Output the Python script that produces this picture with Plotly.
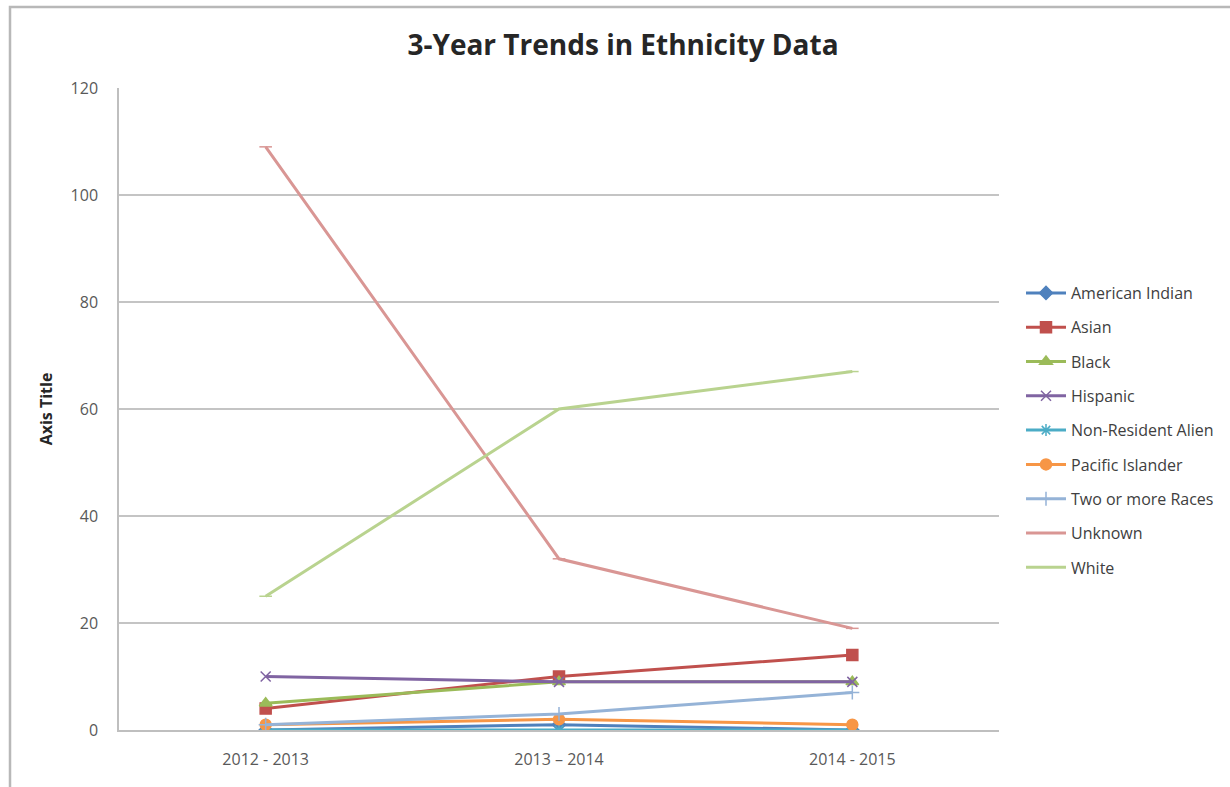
import plotly.graph_objects as go

categories = ["2012 - 2013", "2013 – 2014", "2014 - 2015"]

american_indian = [0, 1, 0]
asian = [4, 10, 14]
black = [5, 9, 9]
hispanic = [10, 9, 9]
non_resident_alien = [0, 0, 0]
pacific_islander = [1, 2, 1]
two_or_more = [1, 3, 7]
unknown = [109, 32, 19]
white = [25, 60, 67]

series = [
    ("American Indian", american_indian, "#4F81BD", "diamond", 10),
    ("Asian", asian, "#C0504D", "square", 11),
    ("Black", black, "#9BBB59", "triangle-up", 11),
    ("Hispanic", hispanic, "#8064A2", "x-thin-open", 10),
    ("Non-Resident Alien", non_resident_alien, "#4BACC6", "asterisk-open", 10),
    ("Pacific Islander", pacific_islander, "#F79646", "circle", 11),
    ("Two or more Races", two_or_more, "#95B3D7", "cross-thin-open", 10),
    ("Unknown", unknown, "#D99694", "line-ew-open", 9),
    ("White", white, "#B9D38F", "line-ew-open", 9),
]

fig = go.Figure()
for name, vals, color, sym, size in series:
    fig.add_trace(go.Scatter(
        x=categories, y=vals, name=name, mode="lines+markers",
        legendgroup=name,
        line=dict(color=color, width=3),
        marker=dict(symbol=sym, size=size, color=color,
                    line=dict(color=color, width=1.5)),
    ))

L, R, T, B = 119, 999, 88, 730
W = R - L
H = B - T

# outer chart border
fig.add_shape(type="rect", xref="paper", yref="paper",
              x0=(10 - L) / W, x1=(1245 - L) / W,
              y0=(B - 800) / H, y1=(B - 7) / H,
              line=dict(color="#B8B8B8", width=2.5), layer="below")

fig.update_layout(
    width=1230, height=787,
    margin=dict(l=L, r=1230 - R, t=T, b=787 - B, autoexpand=False),
    paper_bgcolor="white", plot_bgcolor="white",
    font=dict(family="Open Sans, Liberation Sans, sans-serif", color="#404040"),
    title=dict(text="<b>3-Year Trends in Ethnicity Data</b>",
               x=623 / 1230, xanchor="center", y=1 - 45 / 787, yanchor="middle",
               font=dict(size=28, color="#262626")),
    xaxis=dict(type="category", showgrid=False, showline=True,
               linecolor="#BFBFBF", linewidth=1.5, ticks="",
               ticklabelstandoff=14,
               tickfont=dict(size=16, color="#595959"), range=[-0.5, 2.5]),
    yaxis=dict(range=[0, 120], dtick=20, showgrid=True, gridcolor="#C4C4C4",
               gridwidth=1.5, showline=True, linecolor="#BFBFBF", linewidth=1.5,
               zeroline=False, ticks="", ticklabelstandoff=16,
               tickfont=dict(size=16, color="#595959"),
               title=dict(text="<b>Axis Title</b>", font=dict(size=16, color="#262626"),
                          standoff=14)),
    legend=dict(x=(1021 - L) / W, xanchor="left", y=(B - 276) / H, yanchor="top",
                font=dict(size=16, color="#404040"), tracegroupgap=10.5,
                itemwidth=40, bgcolor="rgba(0,0,0,0)"),
    showlegend=True,
)

fig.write_html("out.html", post_script="document.body.style.margin='0';",
               config={"displayModeBar": False})
